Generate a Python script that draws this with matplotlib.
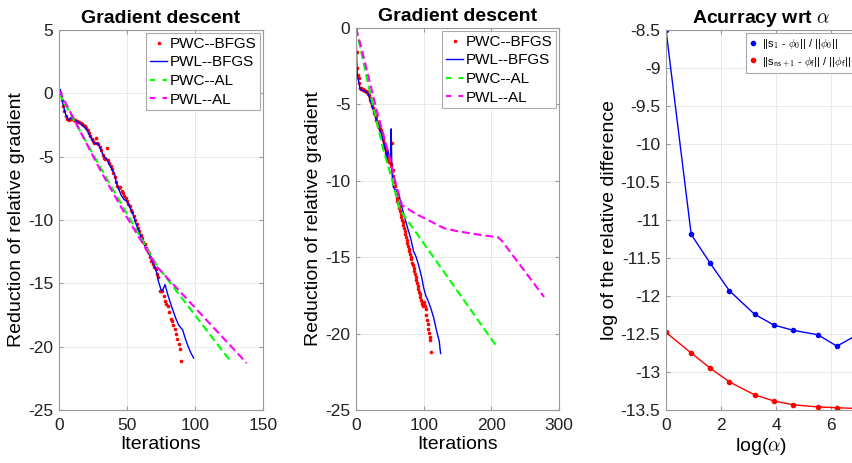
import matplotlib
matplotlib.use("Agg")
import matplotlib.pyplot as plt
from matplotlib.lines import Line2D
from matplotlib.ticker import FuncFormatter
import numpy as np

plt.rcParams['font.family'] = ['Liberation Sans', 'DejaVu Sans']
plt.rcParams['mathtext.fontset'] = 'cm'
plt.rcParams['axes.unicode_minus'] = False

# ---- panel 1 : gradient descent, first case (PWC-BFGS: one value per iteration)
val1_pwc_bfgs = [0.2, 0.0, -0.5, -1.0, -1.4, -1.8, -2.0, -2.1, -2.05, -2.0,
                 -2.05, -2.1, -2.1, -2.2, -2.25, -2.3, -2.35, -2.45, -2.5, -2.6,
                 -2.7, -2.9, -3.1, -3.35, -3.6, -3.8, -3.9, -3.5, -3.9, -4.0,
                 -4.2, -4.5, -4.9, -5.1, -5.2, -4.3, -5.3, -5.5, -5.7, -6.0,
                 -6.3, -6.6, -7.0, -7.3, -7.5, -7.4, -7.7, -7.9, -8.1, -8.3,
                 -8.5, -8.7, -8.9, -9.2, -9.4, -9.7, -10.0, -10.3, -10.6, -10.9,
                 -11.2, -11.4, -11.7, -11.9, -12.2, -12.4, -12.6, -12.9, -13.2, -13.5,
                 -13.7, -13.9, -14.3, -14.5, -15.6, -15.6, -15.6, -16.0, -16.4, -16.6,
                 -16.8, -17.3, -17.8, -18.0, -18.3, -18.6, -19.0, -19.4, -19.8, -20.2,
                 -21.1]
it1_pwl_bfgs = [0, 1, 2, 3, 5, 7, 9, 11, 13, 16, 18, 20, 22, 24, 26, 29, 31, 33, 35, 37, 39, 41, 42, 44, 46,
                48, 50, 52, 54, 56, 58, 61, 63, 65, 67, 70, 72, 73, 75, 76, 78, 80, 83, 86, 88, 91, 93, 95,
                97, 99]
val1_pwl_bfgs = [0.0, 0.3, -0.3, -0.9, -1.7, -2.1, -1.9, -2.1, -2.2, -2.4, -2.6, -2.8, -3.2, -3.6, -3.95,
                 -4.0, -4.5, -5.0, -5.15, -5.6, -6.0, -6.4, -7.0, -7.6, -8.1, -8.4, -8.5, -9.0, -9.4, -10.1,
                 -10.7, -11.5, -12.0, -12.4, -12.85, -13.6, -14.2, -14.8, -15.5, -15.6, -15.1, -15.9, -16.9,
                 -17.8, -18.3, -18.7, -19.4, -20.0, -20.5, -20.9]
it1_pwc_al = [0, 36, 72, 125]
val1_pwc_al = [0.0, -6.9, -13.6, -21.0]
it1_pwl_al = [0, 31, 50, 72, 138]
val1_pwl_al = [0.25, -6.2, -9.8, -13.7, -21.3]

# ---- panel 2 : gradient descent, second case (PWC-BFGS: one value per iteration)
val2_pwc_bfgs = [0.0, -1.6, -2.6, -3.1, -3.3, -3.6, -3.9, -3.95, -4.0, -4.0,
                 -4.0, -4.05, -4.05, -4.1, -4.1, -4.15, -4.2, -4.25, -4.3, -4.4,
                 -4.55, -4.7, -4.85, -5.0, -5.1, -5.25, -5.4, -5.55, -5.7, -5.85,
                 -6.0, -6.15, -6.3, -6.4, -6.5, -6.6, -6.65, -6.7, -6.9, -7.1,
                 -7.3, -7.5, -7.7, -7.85, -8.0, -8.2, -8.4, -8.6, -8.7, -8.75,
                 -8.8, -8.9, -9.0, -7.5, -9.3, -9.7, -10.1, -10.35, -10.6, -10.85,
                 -11.1, -11.3, -11.45, -11.65, -11.8, -12.0, -12.2, -12.35, -12.55, -12.7,
                 -12.9, -13.1, -13.3, -13.5, -13.7, -13.9, -14.1, -14.25, -14.45, -14.6,
                 -14.8, -15.0, -15.15, -15.35, -15.5, -15.7, -15.9, -16.1, -16.3, -16.5,
                 -16.7, -16.9, -17.1, -17.25, -17.4, -17.6, -17.8, -17.9, -18.05, -18.2,
                 -18.1, -17.9, -18.2, -18.4, -18.75, -19.1, -19.4, -19.7, -19.95, -20.2,
                 -20.4, -21.2]
it2_pwl_bfgs = [0, 1, 2, 4, 6, 10, 14, 18, 21, 24, 28, 33, 38, 41, 44, 46, 47, 49, 51, 52, 53, 55, 58, 63,
                67, 72, 77, 81, 85, 89, 93, 97, 100, 103, 107, 111, 115, 119, 123, 125]
val2_pwl_bfgs = [0.0, -2.0, -3.2, -3.5, -4.0, -4.1, -4.15, -4.3, -4.7, -5.1, -5.7, -6.4, -7.0, -7.5, -8.1,
                 -8.7, -8.0, -8.4, -8.5, -6.6, -9.3, -10.4, -10.6, -10.8, -11.6, -12.4, -13.2, -13.8, -14.6,
                 -15.0, -15.6, -16.3, -17.0, -17.5, -17.9, -18.4, -19.0, -19.8, -20.5, -21.3]
it2_pwc_al = [0, 20, 40, 55, 65, 208]
val2_pwc_al = [0.0, -4.1, -7.9, -10.2, -11.9, -20.85]
it2_pwl_al = [0, 8, 30, 48, 60, 68, 90, 130, 150, 185, 210, 215, 278]
val2_pwl_al = [0.0, -1.3, -5.3, -8.2, -10.4, -11.6, -12.2, -13.1, -13.3, -13.55, -13.7, -13.9, -17.6]

# ---- panel 3 : accuracy wrt alpha
log_alpha = [0, 0.916, 1.609, 2.303, 3.219, 3.912, 4.605, 5.521, 6.215, 6.908]
err_s1 = [-8.5, -11.19, -11.57, -11.93, -12.24, -12.38, -12.45, -12.51, -12.66, -12.52]
err_sf = [-12.48, -12.75, -12.95, -13.13, -13.30, -13.38, -13.43, -13.46, -13.47, -13.48]

labels = ['PWC--BFGS', 'PWL--BFGS', 'PWC--AL', 'PWL--AL']
dashes = (0, (3.8, 1.9))
edge = '#9a9a9a'


def style(ax):
    ax.grid(True, color='#e6e6e6', lw=0.6)
    ax.set_axisbelow(True)
    ax.tick_params(direction='in', length=3, top=True, right=True, color=edge,
                   labelsize=12.5, labelcolor='#222222', pad=4)
    ax.tick_params(axis='x', pad=6)
    for s in ax.spines.values():
        s.set_color(edge)
        s.set_linewidth(0.8)


def gradient_panel(ax, a, b, c, d, xmax, ylim):
    ax.plot(np.arange(len(a)), a, color='red', ls='none', marker='o', markersize=2.6, mew=0)
    ax.plot(b[0], b[1], color='blue', lw=1.0)
    ax.plot(c[0], c[1], color='#00ff00', ls=dashes, lw=1.5)
    ax.plot(d[0], d[1], color='magenta', ls=dashes, lw=1.5)
    handles = [Line2D([], [], color='red', ls='none', marker='o', markersize=2.6, mew=0),
               Line2D([], [], color='blue', lw=1.0),
               Line2D([], [], color='#00ff00', ls=(0, (2.5, 3.5)), lw=1.5),
               Line2D([], [], color='magenta', ls=(0, (2.5, 3.5)), lw=1.5)]
    leg = ax.legend(handles, labels, loc='upper right', fontsize=11, handlelength=1.1,
                    handletextpad=0.15, labelspacing=0.3, borderpad=0.25, borderaxespad=0.2,
                    fancybox=False, edgecolor='#aaaaaa', framealpha=1)
    leg.get_frame().set_linewidth(0.8)
    ax.set_xlim(0, xmax)
    ax.set_ylim(*ylim)
    ax.set_title('Gradient descent', fontsize=14, fontweight='bold', pad=5)
    ax.set_xlabel('Iterations', fontsize=14, labelpad=2)
    ax.set_ylabel('Reduction of relative gradient', fontsize=14, labelpad=2)
    style(ax)


W, H = 852, 463
fig = plt.figure(figsize=(W / 100, H / 100), dpi=100)
ax1 = fig.add_axes([59 / W, 1 - 410 / H, 204 / W, 380 / H])
ax2 = fig.add_axes([356 / W, 1 - 410 / H, 203 / W, 382 / H])
ax3 = fig.add_axes([666 / W, 1 - 410 / H, 190 / W, 380 / H])

gradient_panel(ax1, val1_pwc_bfgs, (it1_pwl_bfgs, val1_pwl_bfgs),
               (it1_pwc_al, val1_pwc_al), (it1_pwl_al, val1_pwl_al), 150, (-25, 5))
ax1.set_xticks([0, 50, 100, 150])
ax1.set_yticks([-25, -20, -15, -10, -5, 0, 5])

gradient_panel(ax2, val2_pwc_bfgs, (it2_pwl_bfgs, val2_pwl_bfgs),
               (it2_pwc_al, val2_pwc_al), (it2_pwl_al, val2_pwl_al), 300, (-25, 0))
ax2.set_xticks([0, 100, 200, 300])
ax2.set_yticks([-25, -20, -15, -10, -5, 0])

# panel 3
ax3.plot(log_alpha, err_s1, color='blue', lw=1.0)
ax3.plot(log_alpha, err_sf, color='red', lw=1.0)
ax3.plot(log_alpha, err_s1, ls='none', marker='o', markersize=3, color='blue',
         label=r'||s$_\mathsf{1}$ - $\phi_\mathsf{0}$|| / ||$\phi_\mathsf{0}$||')
ax3.plot(log_alpha, err_sf, ls='none', marker='o', markersize=3, color='red',
         label=r'||s$_\mathsf{ns+1}$ - $\phi_\mathsf{f}$|| / ||$\phi_\mathsf{f}$||')
leg3 = ax3.legend(loc='upper left', bbox_to_anchor=(746 / W, 1 - 33 / H),
                  bbox_transform=fig.transFigure, fontsize=8, handlelength=0.6,
                  handletextpad=0.5, labelspacing=0.35, borderpad=0.35, borderaxespad=0,
                  fancybox=False, edgecolor='#aaaaaa', framealpha=1)
leg3.get_frame().set_linewidth(0.8)
ax3.set_xlim(0, 6.908)
ax3.set_ylim(-13.5, -8.5)
ax3.set_xticks([0, 2, 4, 6])
ax3.set_yticks(np.arange(-13.5, -8.49, 0.5))
ax3.yaxis.set_major_formatter(FuncFormatter(lambda v, p: '%g' % v))
ax3.set_title(r'Acurracy wrt $\alpha$', fontsize=14, fontweight='bold', pad=5)
ax3.set_xlabel(r'log($\alpha$)', fontsize=14, labelpad=2)
ax3.set_ylabel('log of the relative difference', fontsize=14, labelpad=2)
style(ax3)

fig.savefig('out.png', dpi=100)
plt.close(fig)
